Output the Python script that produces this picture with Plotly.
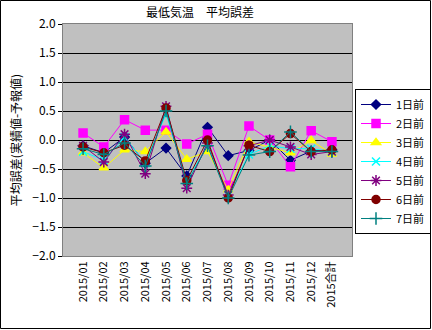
import plotly.graph_objects as go

categories = ["2015/01", "2015/02", "2015/03", "2015/04", "2015/05", "2015/06", "2015/07",
              "2015/08", "2015/09", "2015/10", "2015/11", "2015/12", "2015合計"]

d1 = [-0.10, -0.22, 0.05, -0.40, -0.14, -0.62, 0.22, -0.27, -0.18, 0.00, -0.35, -0.19, -0.17]
d2 = [0.12, -0.12, 0.35, 0.17, 0.17, -0.07, 0.10, -0.78, 0.24, 0.00, -0.46, 0.16, -0.03]
d3 = [-0.22, -0.48, -0.17, -0.20, 0.14, -0.33, -0.20, -0.86, -0.03, -0.12, -0.22, -0.01, -0.24]
d4 = [-0.20, -0.35, 0.05, -0.40, 0.45, -0.70, -0.10, -0.95, -0.25, -0.10, -0.15, -0.15, -0.20]
d5 = [-0.10, -0.38, 0.10, -0.58, 0.58, -0.83, -0.05, -0.95, -0.10, 0.00, -0.12, -0.25, -0.20]
d6 = [-0.12, -0.22, -0.09, -0.36, 0.55, -0.70, 0.00, -1.00, -0.09, -0.20, 0.11, -0.20, -0.17]
d7 = [-0.15, -0.25, -0.05, -0.45, 0.50, -0.75, -0.10, -1.00, -0.26, -0.20, 0.14, -0.20, -0.20]

names = ["1日前", "2日前", "3日前", "4日前", "5日前", "6日前", "7日前"]
series = [d1, d2, d3, d4, d5, d6, d7]
colors = ["#000080", "#FF00FF", "#FFFF00", "#00FFFF", "#800080", "#800000", "#008080"]
symbols = ["diamond", "square", "triangle-up", "x-thin-open", "asterisk-open", "circle", "cross-thin-open"]
sizes = [7, 8, 8, 8, 9, 8, 9]

FONT = "MS PGothic, Noto Sans CJK JP, sans-serif"

fig = go.Figure()
for n, s, c, sym, sz in zip(names, series, colors, symbols, sizes):
    fig.add_trace(go.Scatter(
        x=categories, y=s, name=n, mode="lines+markers",
        line=dict(color=c, width=1),
        marker=dict(symbol=sym, color=c, size=sz, line=dict(color=c, width=1.5)),
    ))

pw, ph = 289, 232
ml, mr, mt, mb = 63, 80, 24, 74

fig.update_layout(
    width=432, height=330,
    margin=dict(l=ml, r=mr, t=mt, b=mb, autoexpand=False),
    paper_bgcolor="white",
    plot_bgcolor="#C0C0C0",
    font=dict(family=FONT, size=11, color="black"),
    title=dict(text="最低気温　平均誤差", x=(200 - ml) / pw, xref="paper", xanchor="center",
               y=1 - 13 / 330, yanchor="middle", font=dict(size=12, family=FONT)),
    showlegend=True,
    legend=dict(x=(355 - ml) / pw, xanchor="left", y=1 - (89 - mt) / ph, yanchor="top",
                bgcolor="white", bordercolor="black", borderwidth=1,
                font=dict(size=11, family=FONT), tracegroupgap=0, itemwidth=30),
    xaxis=dict(type="category", tickangle=-90, showgrid=False, showline=True,
               linecolor="#808080", linewidth=1, mirror=True, ticks="", zeroline=False,
               tickfont=dict(size=11, family=FONT)),
    yaxis=dict(range=[-2.0, 2.0], dtick=0.5, tickformat=".1f", showgrid=True,
               gridcolor="black", gridwidth=1, zeroline=False, showline=True,
               linecolor="#808080", linewidth=1, mirror=True, ticks="outside",
               ticklen=4, tickcolor="black",
               title=dict(text="平均誤差(実績値-予報値)", font=dict(size=12, family=FONT), standoff=8),
               tickfont=dict(size=12, family=FONT)),
)

# outer frame of the chart
fig.add_shape(type="rect", xref="paper", yref="paper",
              x0=-(ml - 0.5) / pw, x1=1 + (mr - 1.5) / pw,
              y0=-(mb - 1.5) / ph, y1=1 + (mt - 0.5) / ph,
              line=dict(color="black", width=1), fillcolor="rgba(0,0,0,0)", layer="below")

fig.write_html("out.html")
